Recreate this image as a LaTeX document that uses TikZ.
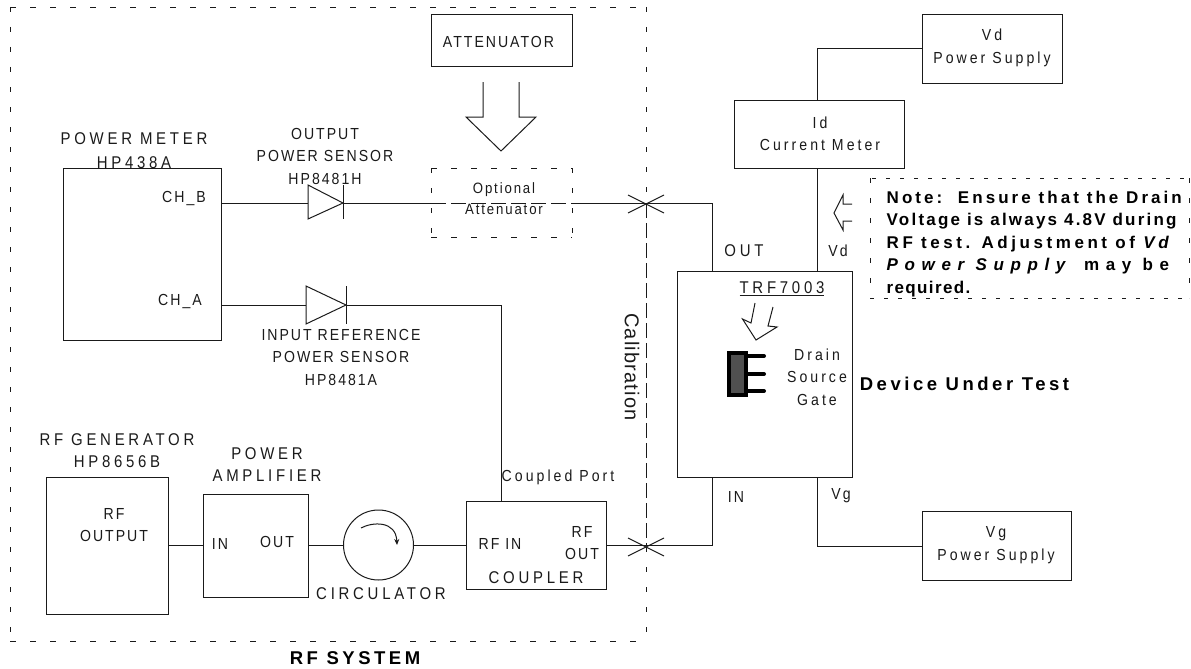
\documentclass[tikz,border=0pt]{standalone}
\usepackage{fontspec}
\usepackage{xcolor}
\setsansfont{Liberation Sans}[FakeStretch=0.88,LetterSpace=12.5]
\newfontfamily\lowersf{Liberation Sans}[FakeStretch=0.88,LetterSpace=19]
\newfontfamily\bigsf{Liberation Sans}[FakeStretch=0.88,LetterSpace=22]
\newfontfamily\calibsf{Liberation Sans}[LetterSpace=6]
\newfontfamily\boldsf{Liberation Sans}[LetterSpace=19]
\usetikzlibrary{arrows.meta,positioning,calc}
\definecolor{wireblack}{HTML}{1A1A1A}
\definecolor{fetgray}{HTML}{505050}

\begin{document}
\begin{tikzpicture}[
  x=1pt, y=-1pt,
  font=\sffamily,
  >=Stealth,
  wire/.style={draw=wireblack, line width=1pt},
  unitbox/.style={draw=wireblack, fill=white, line width=1pt, inner sep=0pt, anchor=north west},
  tag/.style={inner sep=0pt, align=center, text=wireblack, font=\sffamily\fontsize{16}{22.5}\selectfont},
  lowertag/.style={tag, font=\lowersf\fontsize{16}{22.5}\selectfont},
  bigtag/.style={tag, font=\bigsf\fontsize{17}{22.5}\selectfont},
  boldtag/.style={inner sep=0pt, align=center, text=black, font=\boldsf\bfseries\fontsize{18.5}{22.5}\selectfont},
  dashH/.style={draw=wireblack, line width=0.8pt, dash pattern=on 6pt off 14pt},
  dashV/.style={draw=wireblack, line width=0.8pt, dash pattern=on 5pt off 15pt},
  dashLong/.style={draw=wireblack, line width=0.9pt, dash pattern=on 15pt off 5pt}
]
  \useasboundingbox (0,0) rectangle (1191,669);

  % RF system outline
  \draw[dashH] (10,7) -- (646,7);
  \draw[dashV] (10,7) -- (10,641);
  \draw[dashH] (10,641) -- (646,641);
  \draw[dashV] (646,7) -- (646,203);
  \draw[dashLong] (646,203) -- (646,545);
  \draw[dashV] (646,547) -- (646,641);
  \node[boldtag] (rfsystem) at (355,658) {RF SYSTEM};
  \node[tag, rotate=-90, font=\calibsf\fontsize{20}{22}\selectfont] (calib) at (632,367) {Calibration};

  % Attenuator and its arrow
  \node[unitbox, minimum width=141pt, minimum height=52pt] (attenbox) at (431,14) {};
  \node[tag] (attentext) at (498.5,42) {ATTENUATOR};
  \draw[wire] (483,82) -- (483,117) -- (466,117) -- (501,151) -- (536,117) -- (519,117) -- (519,82);

  % Power meter
  \node[bigtag] (pmtext) at (134,150.5) {POWER METER\\[2pt]HP438A};
  \node[unitbox, minimum width=158pt, minimum height=172pt] (powermeter) at (63,168) {};
  \node[tag] (chb) at (184,199) {CH\_B};
  \node[tag] (cha) at (180,302) {CH\_A};

  % Output sensor branch
  \coordinate (diodeBin) at (308,203);
  \coordinate (diodeBout) at (343,203);
  \coordinate (optin) at (431,203);
  \coordinate (optout) at (572,203);
  \coordinate (crossout) at (646,203);
  \node[tag] (outsensor) at (325,156) {OUTPUT\\POWER SENSOR\\HP8481H};
  \node[tag, font=\sffamily\fontsize{15}{21}\selectfont] (opttext) at (504,199) {Optional\\Attenuator};
  \draw[wire] (powermeter.east |- diodeBin) -- (diodeBin);
  \draw[wire] (308,185) -- (343,203) -- (308,219) -- cycle;
  \draw[wire] (343,185) -- (343,219);
  \draw[wire] (diodeBout) -- (optin);
  \draw[dashLong] (optin) -- (optout);
  \draw[wire] (optout) -- (crossout);
  \draw[dashH] (431,168) -- (572,168);
  \draw[dashH] (431,237) -- (572,237);
  \draw[dashV] (431,168) -- (431,237);
  \draw[dashV] (572,168) -- (572,237);

  % Input reference branch
  \coordinate (diodeAin) at (306,305);
  \coordinate (diodeAout) at (346,305);
  \node[tag] (insensor) at (341,357) {INPUT REFERENCE\\POWER SENSOR\\HP8481A};
  \draw[wire] (powermeter.east |- diodeAin) -- (diodeAin);
  \draw[wire] (306,286) -- (346,305) -- (306,324) -- cycle;
  \draw[wire] (346,286) -- (346,324);

  % RF chain
  \node[bigtag] (gentext) at (117,450.5) {RF GENERATOR\\HP8656B};
  \node[unitbox, minimum width=122pt, minimum height=137pt] (rfgen) at (46,477) {};
  \node[tag] (genout) at (114,525) {RF\\OUTPUT};
  \node[bigtag] (patext) at (267,464.5) {POWER\\AMPLIFIER};
  \node[unitbox, minimum width=105pt, minimum height=103pt] (amp) at (203,494) {};
  \node[tag] (ampin) at (220,544) {IN};
  \node[tag] (ampout) at (277,542) {OUT};
  \node[draw=wireblack, line width=1pt, circle, minimum size=70pt, inner sep=0pt] (circ) at (378.5,545) {};
  \draw[wire, -{Stealth[length=6pt,width=5pt]}] (361,528) .. controls (372,522) and (396,520) .. (397,545);
  \node[bigtag] (circtext) at (381,594) {CIRCULATOR};
  \node[unitbox, minimum width=140pt, minimum height=88pt] (coupler) at (466,501) {};
  \node[tag] (coupin) at (500,544) {RF IN};
  \node[tag] (coupout) at (582,543) {RF\\OUT};
  \node[bigtag] (couptext) at (536,578) {COUPLER};
  \node[lowertag] (coupled) at (558,477) {Coupled Port};
  \draw[wire] (diodeAout) -| (501,501);
  \draw[wire] (rfgen.east |- circ) -- (amp.west |- circ);
  \draw[wire] (amp.east |- circ) -- (circ.west);
  \draw[wire] (circ.east) -- (coupler.west |- circ);

  % Device under test
  \node[unitbox, minimum width=175.5pt, minimum height=206pt] (dut) at (676.5,271) {};
  \node[bigtag] (duttype) at (782,289) {\underline{TRF7003}};
  \draw[wire] (755,303) -- (751,323) -- (742.5,319) -- (756,340) -- (777,327) -- (768,326) -- (773,307);
  \fill[black] (727,351) rectangle (748,397);
  \fill[fetgray] (731,355) rectangle (744,393);
  \foreach \y in {356,374,391}
    \draw[black, line width=4pt, line cap=round] (748,\y) -- (764,\y);
  \node[lowertag] (fetpins) at (817,377) {Drain\\Source\\Gate};
  \node[boldtag] (duttext) at (964.5,384) {Device Under Test};
  \node[bigtag] (dutout) at (744,251) {OUT};
  \node[tag] (dutvd) at (838,251) {Vd};
  \node[tag] (dutin) at (736,497) {IN};
  \node[tag] (dutvg) at (841,496) {Vg};

  % Wires through the crossings
  \coordinate (outtop) at (712,271);
  \coordinate (inbot) at (712,477);
  \coordinate (crossin) at (646,545);
  \draw[wire] (crossout) -| (outtop);
  \draw[wire] (coupler.east |- crossin) -| (inbot);
  \draw[wire] (628,195) -- (664,213);
  \draw[wire] (628,213) -- (664,195);
  \draw[wire] (628,556) -- (664,538);
  \draw[wire] (628,538) -- (664,556);

  % Drain supply side
  \node[unitbox, minimum width=170.5pt, minimum height=68pt] (idmeter) at (733.5,100) {};
  \node[lowertag] (idtext) at (820,134) {Id\\Current Meter};
  \node[unitbox, minimum width=140.5pt, minimum height=69pt] (vdsupply) at (921.5,14) {};
  \node[lowertag] (vdtext) at (992,48) {Vd\\Power Supply};
  \coordinate (vdtop) at (817,100);
  \coordinate (vdbot) at (817,271);
  \draw[wire] (vdsupply.west) -| (vdtop);
  \draw[wire] (vdtop |- idmeter.south) -- (vdbot);

  % Gate supply side
  \node[unitbox, minimum width=149.5pt, minimum height=69pt] (vgsupply) at (921.5,511) {};
  \node[lowertag] (vgtext) at (996,545) {Vg\\Power Supply};
  \draw[wire] (817,477) |- (vgsupply.west);

  % Note
  \draw[wire] (852,204) -- (843,204) -- (843,195) -- (834,213) -- (843,230) -- (843,221) -- (852,221);
  \draw[draw=wireblack, line width=0.8pt, dash pattern=on 4pt off 10pt] (872,178) -- (1190,178);
  \draw[draw=wireblack, line width=0.8pt, dash pattern=on 4pt off 10pt] (870,298) -- (1190,298);
  \draw[dashV] (870,178) -- (870,298);
  \draw[dashV] (1189.5,178) -- (1189.5,298);
  \node[boldtag, align=left, anchor=west, font=\boldsf\bfseries\fontsize{17}{22.5}\selectfont] (note) at (886.5,244) {%
    {\addfontfeature{LetterSpace=18}Note:\ \ Ensure that the Drain}\\
    {\addfontfeature{LetterSpace=13}Voltage is always 4.8V during}\\
    {\addfontfeature{LetterSpace=21}RF test. Adjustment of \textit{Vd}}\\
    {\addfontfeature{LetterSpace=39}\textit{Power Supply} may be}\\
    {\addfontfeature{LetterSpace=8}required.}};
\end{tikzpicture}
\end{document}
